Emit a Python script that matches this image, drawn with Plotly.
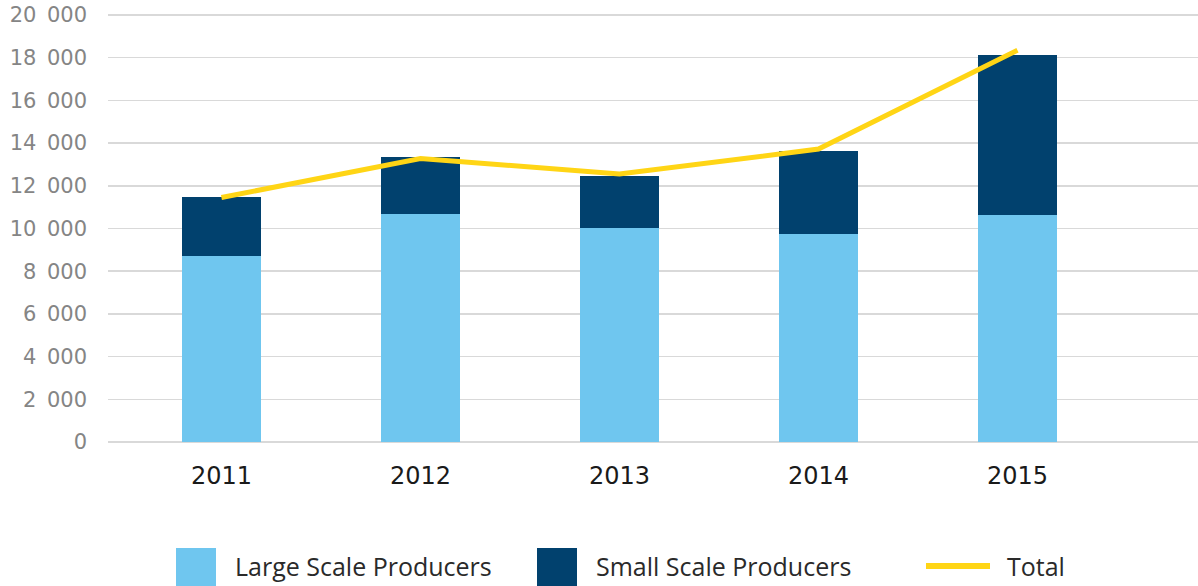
import plotly.graph_objects as go

years = ["2011", "2012", "2013", "2014", "2015"]
large_scale = [8720, 10680, 10030, 9750, 10640]
small_scale = [2750, 2680, 2430, 3880, 7480]
total_line = [11450, 13280, 12550, 13720, 18350]
series_names = ["Large Scale Producers", "Small Scale Producers", "Total"]
y_ticks = [0, 2000, 4000, 6000, 8000, 10000, 12000, 14000, 16000, 18000, 20000]
y_tick_text = [f"{v:,}".replace(",", "\u2002") for v in y_ticks]

c_light = "#6FC6EF"
c_dark = "#01416E"
c_yellow = "#FFD515"

fig = go.Figure()
fig.add_trace(go.Bar(x=years, y=large_scale, name=series_names[0],
                     marker=dict(color=c_light, line=dict(width=0)), width=0.397))
fig.add_trace(go.Bar(x=years, y=small_scale, name=series_names[1],
                     marker=dict(color=c_dark, line=dict(width=0)), width=0.397))
fig.add_trace(go.Scatter(x=years, y=total_line, name=series_names[2], mode="lines",
                         line=dict(color=c_yellow, width=5)))

# plot area in page pixels: x 108..1198, y 13..442 (0 at 442, 20 000 at 15)
fig.update_layout(
    width=1198, height=586,
    margin=dict(l=108, r=0, t=13, b=144, autoexpand=False),
    barmode="stack",
    plot_bgcolor="white", paper_bgcolor="white",
    showlegend=False,
    font=dict(family="Open Sans", color="#333333"),
)
fig.update_xaxes(type="category", range=[-0.57, 4.907], showgrid=False, showline=False,
                 automargin=False, ticks="", ticklabelstandoff=17,
                 tickfont=dict(size=24, color="#1a1a1a", family="DejaVu Sans"))
fig.update_yaxes(range=[0, 429 * 20000 / 427], tickvals=y_ticks, ticktext=y_tick_text,
                 ticklabeloverflow="allow", automargin=False,
                 showgrid=True, gridcolor="#D9D9D9", gridwidth=1.5,
                 zeroline=True, zerolinecolor="#D9D9D9", zerolinewidth=1.5,
                 showline=False, ticks="", ticklabelstandoff=20,
                 tickfont=dict(size=21, color="#858585", family="DejaVu Sans"))

# custom legend, positions given in page pixels (plot area x 108..1198, y 13..442)
def px(x):
    return (x - 108) / 1090
def py(y):
    return (442 - y) / 429

legend_items = [
    (176, 216, series_names[0], c_light, 233),
    (537, 577, series_names[1], c_dark, 594),
]
for x0, x1, name, col, tx in legend_items:
    fig.add_shape(type="rect", xref="paper", yref="paper",
                  x0=px(x0), x1=px(x1), y0=py(590), y1=py(548),
                  fillcolor=col, line=dict(width=0))
    fig.add_annotation(xref="paper", yref="paper", x=px(tx), y=py(566),
                       text=name, showarrow=False, xanchor="left", yanchor="middle",
                       font=dict(size=25, color="#2a2a2a", family="Open Sans"))
fig.add_shape(type="line", xref="paper", yref="paper",
              x0=px(926), x1=px(990), y0=py(566), y1=py(566),
              line=dict(color=c_yellow, width=6))
fig.add_annotation(xref="paper", yref="paper", x=px(1005), y=py(566),
                   text=series_names[2], showarrow=False, xanchor="left", yanchor="middle",
                   font=dict(size=25, color="#2a2a2a", family="Open Sans"))

fig.write_html("out.html", config={"displayModeBar": False, "staticPlot": True},
               post_script="document.body.style.margin='0';document.body.style.overflow='hidden';")
